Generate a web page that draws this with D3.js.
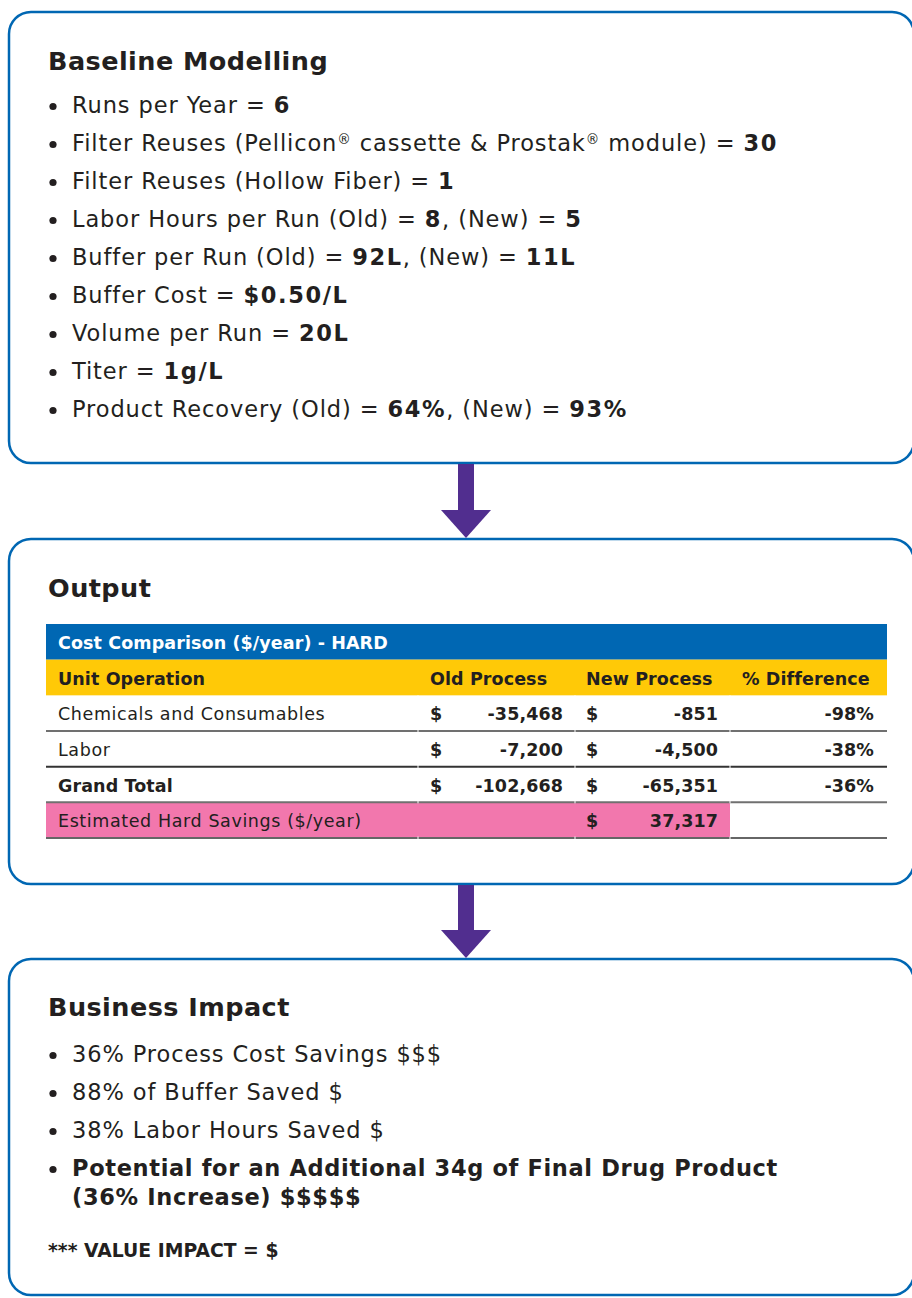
<!DOCTYPE html>
<html>
<head>
<meta charset="utf-8">
<script src="https://cdn.jsdelivr.net/npm/d3@7"></script>
<style>
  body { margin: 0; background: #fff; }
  svg { display: block; }
  text { font-family: "DejaVu Sans", Verdana, sans-serif; fill: #231f20; }
</style>
</head>
<body>
<svg id="chart" width="912" height="1298"></svg>
<script>
// ---- data (** marks bold text) ----
const sectionTitles = ["Baseline Modelling", "Output", "Business Impact"];

const baselineItems = [
  "Runs per Year = **6**",
  "Filter Reuses (Pellicon® cassette & Prostak® module) = **30**",
  "Filter Reuses (Hollow Fiber) = **1**",
  "Labor Hours per Run (Old) = **8**, (New) = **5**",
  "Buffer per Run (Old) = **92L**, (New) = **11L**",
  "Buffer Cost = **$0.50/L**",
  "Volume per Run = **20L**",
  "Titer = **1g/L**",
  "Product Recovery (Old) = **64%**, (New) = **93%**"
];

const tableTitle = "Cost Comparison ($/year) - HARD";
const tableColumns = ["Unit Operation", "Old Process", "New Process", "% Difference"];
const operations = ["Chemicals and Consumables", "Labor", "Grand Total"];
const oldCost = [-35468, -7200, -102668];
const newCost = [-851, -4500, -65351];
const pctDiff = [-98, -38, -36];
const savingsLabel = "Estimated Hard Savings ($/year)";
const hardSavings = 37317;

const impactItems = [
  ["36% Process Cost Savings $$$"],
  ["88% of Buffer Saved $"],
  ["38% Labor Hours Saved $"],
  ["**Potential for an Additional 34g of Final Drug Product**", "**(36% Increase) $$$$$**"]
];
const impactNote = "*** VALUE IMPACT = $";

// ---- setup ----
const svg = d3.select("#chart");
const blue = "#0067b3", purple = "#512e8f", yellow = "#ffc907", pink = "#f277ad", ink = "#231f20";
const fmt = d3.formatLocale({decimal: ".", thousands: ",", grouping: [3], currency: ["$", ""], minus: "-"}).format(",");

// writes text with **bold** parts and raised ® marks
function rich(sel, str, size, boldSpacing) {
  let pendingDy = 0;
  str.split("**").forEach((part, i) => {
    part.split(/(®)/).forEach(p => {
      if (!p) return;
      const t = sel.append("tspan").attr("font-weight", i % 2 ? "bold" : "normal").text(p);
      if (i % 2) t.attr("letter-spacing", boldSpacing);
      if (p === "®") {
        t.attr("font-size", size * 0.6).attr("dy", -size * 0.33);
        pendingDy = size * 0.33;
      } else if (pendingDy) {
        t.attr("dy", pendingDy);
        pendingDy = 0;
      }
    });
  });
  return sel;
}

// ---- boxes ----
const boxes = [[12, 463], [539, 884], [959, 1295]];
svg.selectAll("rect.box").data(boxes).join("rect")
  .attr("class", "box")
  .attr("x", 9).attr("y", d => d[0])
  .attr("width", 905).attr("height", d => d[1] - d[0])
  .attr("rx", 22)
  .attr("fill", "none").attr("stroke", blue).attr("stroke-width", 2.5);

// arrows between boxes
const arrows = d3.pairs(boxes).map(([a, b]) => [a[1], b[0]]);
arrows.forEach(([y0, y1]) => {
  const cx = 466, headY = y1 - 29;
  svg.append("rect").attr("x", cx - 8).attr("y", y0 + 1).attr("width", 16).attr("height", headY - y0).attr("fill", purple);
  svg.append("path").attr("d", `M${cx - 25},${headY}L${cx + 25},${headY}L${cx},${y1 - 1}Z`).attr("fill", purple);
});

// titles
const titleY = [70, 597, 1016];
svg.selectAll("text.title").data(sectionTitles).join("text")
  .attr("class", "title")
  .attr("x", 48).attr("y", (d, i) => titleY[i])
  .attr("font-size", 25.5).attr("letter-spacing", 0.45).attr("font-weight", "bold")
  .text(d => d);

// ---- bullets ----
const bulletSize = 22.5;
function bulletList(items, y0, step, wrapStep, boldSpacing) {
  let y = y0;
  items.forEach(lines => {
    svg.append("circle").attr("cx", 53).attr("cy", y - 6.5).attr("r", 3.6).attr("fill", ink);
    lines.forEach((line, j) => {
      rich(svg.append("text").attr("x", 72).attr("y", y + j * wrapStep)
        .attr("font-size", bulletSize).attr("letter-spacing", 0.9), line, bulletSize, boldSpacing);
    });
    y += step + (lines.length - 1) * wrapStep;
  });
}
bulletList(baselineItems.map(d => [d]), 113, 38, 0, 1.6);
bulletList(impactItems, 1062, 38, 29, 0.65);

svg.append("text").attr("x", 48).attr("y", 1257)
  .attr("font-size", 18.8).attr("font-weight", "bold").text(impactNote);

// ---- table ----
const tx0 = 46, tx1 = 887;
const rowKeys = ["title", "header", ...operations, "savings"];
const y = d3.scaleBand().domain(rowKeys).range([624, 838]);
const tSize = 17.5;
const col = {label: 58, oldCur: 430, oldVal: 563, newCur: 586, newVal: 718, pct: 874, pctHead: 742};

svg.append("rect").attr("x", tx0).attr("y", y("title")).attr("width", tx1 - tx0).attr("height", y.bandwidth()).attr("fill", blue);
svg.append("rect").attr("x", tx0).attr("y", y("header")).attr("width", tx1 - tx0).attr("height", y.bandwidth()).attr("fill", yellow);
svg.append("rect").attr("x", tx0).attr("y", y("savings")).attr("width", 730 - tx0).attr("height", y.bandwidth()).attr("fill", pink);

const base = k => y(k) + y.bandwidth() * 0.7;
const cell = (x, yy, txt, bold, anchor) => svg.append("text")
  .attr("x", x).attr("y", yy).attr("font-size", tSize).attr("letter-spacing", bold ? 0.1 : 0.6)
  .attr("font-weight", bold ? "bold" : "normal").attr("text-anchor", anchor || "start").text(txt);

cell(col.label, base("title"), tableTitle, true).style("fill", "#fff");

const headX = [col.label, col.oldCur, col.newCur, col.pctHead];
tableColumns.forEach((c, i) => cell(headX[i], base("header"), c, true));

operations.forEach((op, i) => {
  const yy = base(op);
  cell(col.label, yy, op, op === "Grand Total");
  cell(col.oldCur, yy, "$", true);
  cell(col.oldVal, yy, fmt(oldCost[i]), true, "end");
  cell(col.newCur, yy, "$", true);
  cell(col.newVal, yy, fmt(newCost[i]), true, "end");
  cell(col.pct, yy, pctDiff[i] + "%", true, "end");
});

cell(col.label, base("savings"), savingsLabel, false);
cell(col.newCur, base("savings"), "$", true);
cell(col.newVal, base("savings"), fmt(hardSavings), true, "end");

// row rules
const ruleColors = ["#707070", "#333", "#707070", "#666"];
[...operations, "savings"].forEach((k, i) => {
  svg.append("line").attr("x1", tx0).attr("x2", tx1)
    .attr("y1", y(k) + y.bandwidth()).attr("y2", y(k) + y.bandwidth())
    .attr("stroke", ruleColors[i]).attr("stroke-width", 2);
});
// faint column gaps in the rules
[418, 575, 730].forEach(x => {
  svg.append("line").attr("x1", x).attr("x2", x).attr("y1", y(operations[0])).attr("y2", y("savings") + 1)
    .attr("stroke", "#fff").attr("stroke-width", 1);
  svg.append("line").attr("x1", x).attr("x2", x).attr("y1", y("savings") + y.bandwidth() - 1.5).attr("y2", y("savings") + y.bandwidth() + 1.5)
    .attr("stroke", "#fff").attr("stroke-width", 1);
});
</script>
</body>
</html>
